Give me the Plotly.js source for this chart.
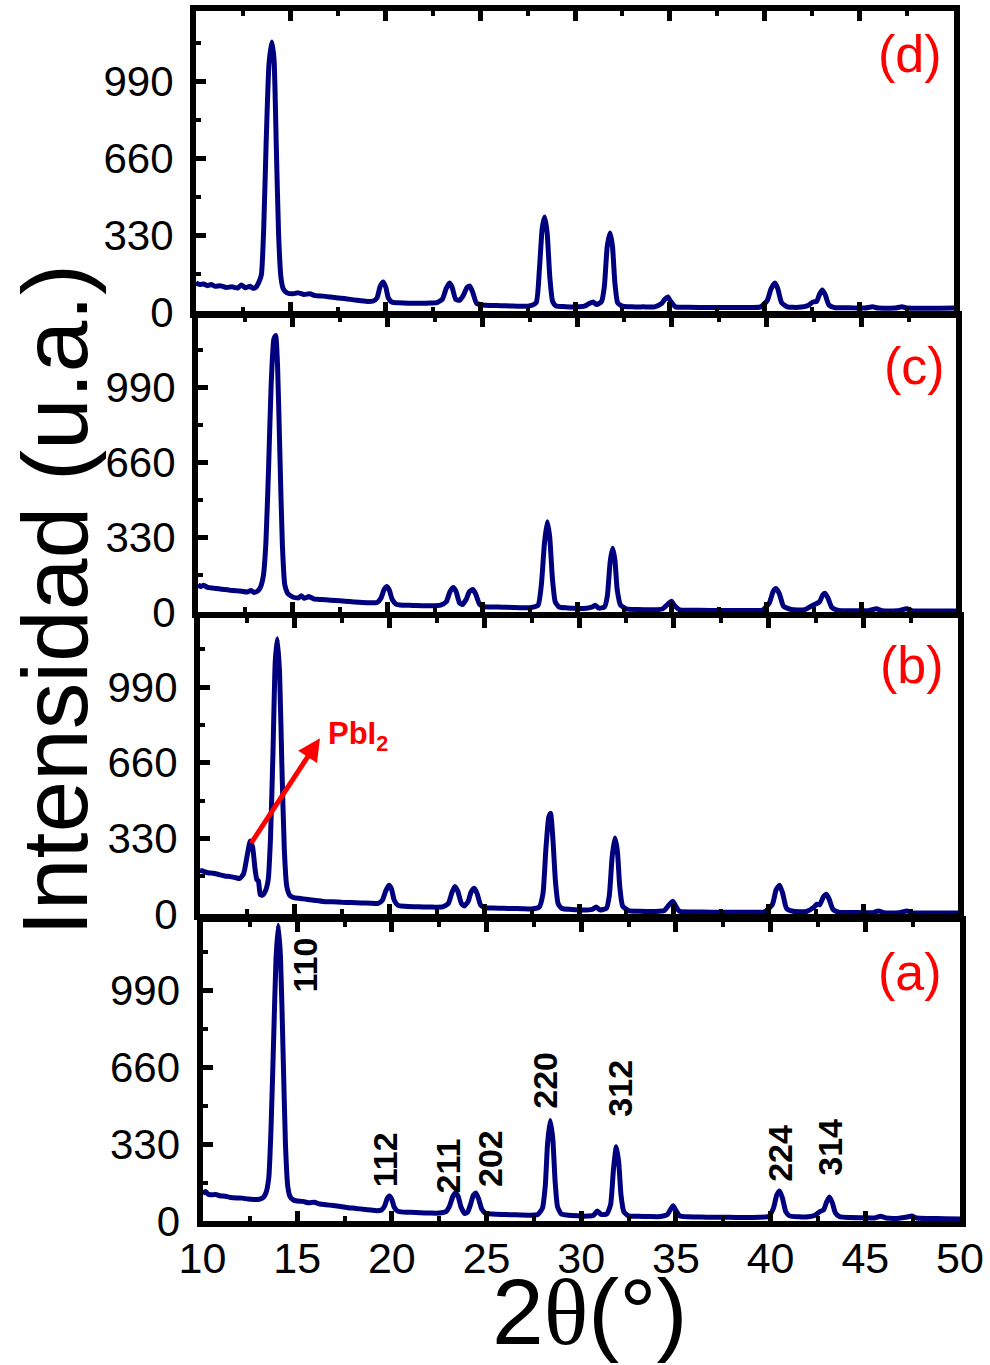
<!DOCTYPE html>
<html>
<head>
<meta charset="utf-8">
<script src="https://cdn.plot.ly/plotly-3.0.1.min.js"></script>
<style>html,body{margin:0;padding:0;background:#fff;}#chart{width:990px;height:1365px;}</style>
</head>
<body>
<div id="chart"></div>
<script>
// ---- Data (2θ in degrees, intensity in a.u.) ----
const thetaA = [10.0,10.15,10.3,10.5,10.7,10.9,11.2,11.5,11.8,12.1,12.4,12.7,13.0,13.2,13.35,13.5,13.62,13.75,13.88,14.0,14.12,14.25,14.38,14.5,14.62,14.8,15.0,15.3,15.6,15.9,16.2,16.5,16.9,17.3,17.7,18.1,18.5,18.9,19.2,19.45,19.62,19.75,19.87,20.0,20.12,20.3,20.6,21.0,21.5,22.0,22.5,22.85,23.05,23.22,23.35,23.5,23.65,23.85,24.0,24.15,24.3,24.43,24.58,24.75,24.95,25.3,25.8,26.3,26.8,27.3,27.7,27.95,28.1,28.22,28.36,28.5,28.62,28.75,28.95,29.3,29.8,30.3,30.65,30.85,31.05,31.35,31.55,31.7,31.85,31.98,32.1,32.25,32.5,33.0,33.6,34.2,34.55,34.72,34.85,35.0,35.2,35.6,36.3,37.0,37.8,38.6,39.4,39.9,40.15,40.32,40.47,40.62,40.8,41.0,41.5,42.0,42.35,42.6,42.8,42.95,43.1,43.25,43.42,43.65,44.2,44.9,45.5,45.8,46.1,46.8,47.2,47.45,47.7,48.4,49.2,50.0];
const intA = [118,126,115,112,114,108,106,101,99,98,94,92,93,100,120,185,400,760,1120,1268,1130,740,330,150,105,90,86,84,78,80,73,70,66,62,57,54,50,47,44,47,65,95,107,92,60,42,38,37,35,34,34,40,65,105,120,105,60,32,38,70,110,120,95,50,33,30,28,27,26,25,28,55,150,330,431,350,170,60,30,25,22,21,25,43,28,30,70,220,318,250,110,40,22,20,19,19,28,50,65,45,22,18,17,16,16,15,16,20,55,110,129,100,40,22,18,18,25,40,48,80,103,80,35,18,15,14,13,20,13,12,17,21,13,11,10,9];

const thetaB = [10.0,10.2,10.4,10.7,11.0,11.3,11.6,11.9,12.1,12.3,12.5,12.65,12.78,12.9,13.0,13.08,13.18,13.3,13.45,13.6,13.72,13.85,13.97,14.08,14.2,14.32,14.45,14.58,14.75,15.0,15.3,15.6,16.0,16.5,17.0,17.5,18.0,18.5,19.0,19.4,19.62,19.8,19.97,20.1,20.25,20.45,20.8,21.3,21.8,22.3,22.8,23.1,23.3,23.45,23.6,23.8,23.95,24.15,24.3,24.47,24.62,24.8,25.0,25.5,26.0,26.5,27.0,27.5,27.9,28.1,28.25,28.4,28.5,28.62,28.76,28.9,29.1,29.6,30.2,30.7,30.9,31.1,31.45,31.6,31.75,31.9,32.03,32.15,32.3,32.6,33.2,34.0,34.5,34.75,34.95,35.1,35.3,36.0,37.0,38.0,39.0,39.8,40.2,40.4,40.58,40.75,40.95,41.3,42.0,42.4,42.55,42.7,42.9,43.05,43.2,43.4,43.7,44.5,45.5,45.8,46.1,46.9,47.3,47.6,48.5,49.3,50.0];
const intB = [190,186,180,178,172,166,163,158,155,175,260,318,290,200,150,145,85,82,100,150,330,700,1100,1200,1050,650,280,120,80,70,68,64,60,55,53,51,50,48,47,46,60,100,125,110,60,38,34,32,31,30,31,45,95,120,100,45,35,55,95,112,90,40,28,26,25,24,23,22,30,90,280,420,439,330,140,45,24,20,17,20,31,18,25,80,250,331,270,120,35,15,12,11,15,40,56,35,12,9,8,8,8,10,40,105,125,90,25,12,11,30,43,40,75,86,65,20,8,7,6,13,6,5,13,5,4,4,4];

const thetaC = [10.0,10.15,10.3,10.5,10.8,11.1,11.4,11.7,12.0,12.3,12.6,12.8,12.95,13.15,13.3,13.45,13.58,13.72,13.86,14.0,14.1,14.2,14.32,14.45,14.58,14.75,15.0,15.3,15.45,15.6,15.85,16.1,16.5,17.0,17.5,18.0,18.5,19.0,19.45,19.65,19.83,19.97,20.1,20.25,20.45,20.8,21.3,21.8,22.3,22.8,23.1,23.3,23.47,23.62,23.8,23.95,24.15,24.32,24.5,24.65,24.85,25.1,25.6,26.1,26.6,27.1,27.6,27.95,28.12,28.28,28.43,28.56,28.7,28.85,29.05,29.5,30.0,30.5,30.8,30.95,31.15,31.45,31.6,31.75,31.88,32.0,32.12,32.3,32.6,33.2,34.0,34.5,34.8,34.98,35.15,35.4,36.0,37.0,38.0,39.0,39.8,40.15,40.35,40.5,40.68,40.9,41.3,42.0,42.4,42.6,42.8,42.97,43.1,43.25,43.45,43.8,44.5,45.4,45.8,46.1,46.9,47.4,47.7,48.5,49.3,50.0];
const intC = [120,112,118,108,105,102,99,96,94,91,88,95,86,92,110,160,300,620,1000,1200,1217,1080,700,300,120,80,66,62,72,60,68,58,55,52,49,46,43,41,42,60,100,112,95,55,35,30,29,28,27,30,45,90,108,90,40,33,55,90,99,80,35,24,22,21,20,19,20,30,120,300,397,330,150,45,22,18,16,17,22,30,17,22,70,220,280,230,100,30,14,11,10,13,35,47,28,10,8,7,7,7,9,40,90,103,80,25,11,10,28,35,45,75,82,60,20,7,6,6,14,6,5,14,5,4,4,4];

const thetaD = [10.0,10.2,10.4,10.6,10.8,11.0,11.3,11.6,11.9,12.2,12.4,12.6,12.85,13.0,13.15,13.3,13.45,13.57,13.7,13.85,14.0,14.12,14.24,14.36,14.48,14.6,14.8,15.1,15.4,15.7,16.0,16.3,16.7,17.1,17.5,17.9,18.3,18.7,19.1,19.35,19.55,19.72,19.88,20.02,20.15,20.35,20.7,21.2,21.7,22.2,22.7,23.0,23.2,23.38,23.52,23.7,23.9,24.1,24.3,24.45,24.6,24.8,25.1,25.6,26.1,26.6,27.1,27.6,27.95,28.12,28.27,28.4,28.53,28.67,28.82,29.0,29.5,30.0,30.5,30.75,30.95,31.15,31.4,31.55,31.7,31.85,31.98,32.1,32.25,32.5,33.0,33.6,34.2,34.55,34.75,34.9,35.05,35.3,36.0,37.0,38.0,39.0,39.8,40.15,40.35,40.55,40.7,40.9,41.2,41.8,42.3,42.55,42.75,42.9,43.05,43.2,43.4,43.7,44.5,45.3,45.7,46.0,46.9,47.25,47.5,48.5,49.3,50.0];
const intD = [124,118,120,113,118,110,112,105,108,103,116,104,110,102,105,125,160,350,720,1060,1157,1080,700,330,150,100,82,78,82,75,78,70,68,64,60,57,52,48,45,47,60,110,129,105,60,42,40,38,37,38,40,55,100,124,105,55,50,70,105,111,85,38,30,28,27,26,25,26,40,180,360,407,340,150,45,26,23,22,25,36,43,32,45,110,280,339,280,130,40,25,22,22,22,35,55,64,45,22,20,19,19,19,22,50,100,124,100,40,22,20,28,43,45,75,94,75,30,19,18,17,22,17,17,22,17,16,16,17];

const panelLabels = ['(a)','(b)','(c)','(d)'];
const yTickVals = [0,330,660,990];
const yTickText = ['0','330','660','990'];
const yMinorVals = [165,495,825,1155];
const xTickVals = [10,15,20,25,30,35,40,45,50];
const hklLabels = ['110','112','211','202','220','312','224','314'];
const hklPos2T  = [15.44,19.64,22.94,25.21,28.07,32.03,40.48,43.12];
const hklPosI   = [1097,261,236,268,604,570,291,317];
const impurityLabel = 'PbI<sub>2</sub>';

// ---- Layout geometry (pixels in the 990x1365 page) ----
const W = 990, H = 1365;
const fx = p => p / W;
const fy = p => 1 - p / H;
const FONT = 'Arial, "Liberation Sans", sans-serif';
const geo = [
  {left:202.5, right:960, bottom:1221, top:922, top330:231/990},
  {left:200,   right:958, bottom:914,  top:618, top330:227/990},
  {left:198,   right:956, bottom:612,  top:317, top330:225/990},
  {left:196,   right:954, bottom:312,  top:11,  top330:231/990}
];
const series = [[thetaA,intA],[thetaB,intB],[thetaC,intC],[thetaD,intD]];

const traces = [];
const layout = {
  width: W, height: H,
  margin: {l:0, r:0, t:0, b:0},
  paper_bgcolor: '#fff', plot_bgcolor: '#fff',
  showlegend: false,
  annotations: []
};

series.forEach((s, i) => {
  const n = i === 0 ? '' : String(i + 1);
  traces.push({
    x: s[0], y: s[1], type: 'scatter', mode: 'lines',
    xaxis: 'x' + n, yaxis: 'y' + n,
    line: {color: '#00007f', width: 5, shape: 'spline', smoothing: 0.5},
    hoverinfo: 'skip'
  });
  const g = geo[i];
  const R = (g.bottom - g.top) / g.top330;
  layout['xaxis' + n] = {
    domain: [fx(g.left), fx(g.right)], range: [10, 50], anchor: 'y' + n,
    showline: true, linewidth: 6, linecolor: '#000', mirror: 'ticks',
    ticks: 'inside', ticklen: 10, tickwidth: 5, tickcolor: '#000',
    tickvals: xTickVals, ticktext: xTickVals.map(String),
    minor: {dtick: 2.5, tick0: 10, ticks: 'inside', ticklen: 5, tickwidth: 4, tickcolor: '#000'},
    showgrid: false, zeroline: false,
    showticklabels: i === 0,
    tickfont: {family: FONT, size: 43, color: '#000'},
    ticklabelstandoff: -6
  };
  layout['yaxis' + n] = {
    domain: [fy(g.bottom), fy(g.top)], range: [0, R], anchor: 'x' + n,
    showline: true, linewidth: 6, linecolor: '#000', mirror: true,
    ticks: 'inside', ticklen: 10, tickwidth: 5, tickcolor: '#000',
    tickvals: yTickVals, ticktext: yTickText,
    minor: {tickvals: yMinorVals, ticks: 'inside', ticklen: 5, tickwidth: 4, tickcolor: '#000'},
    showgrid: false, zeroline: false,
    tickfont: {family: FONT, size: 42, color: '#000'},
    ticklabelstandoff: 8
  };
});

// Panel letters
const letterPos = [[910,972],[912,665],[914,366],[910,54]];
panelLabels.forEach((t, i) => {
  layout.annotations.push({
    text: t, xref: 'paper', yref: 'paper', x: fx(letterPos[i][0]), y: fy(letterPos[i][1]),
    xanchor: 'center', yanchor: 'middle', showarrow: false,
    font: {family: FONT, size: 52, color: '#ff0000'}
  });
});

// hkl labels on panel (a)
hklLabels.forEach((t, i) => {
  layout.annotations.push({
    text: '<b>' + t + '</b>', xref: 'x', yref: 'y', x: hklPos2T[i], y: hklPosI[i],
    xanchor: 'center', yanchor: 'middle', textangle: -90, showarrow: false,
    font: {family: FONT, size: 34, color: '#000'}
  });
});

// PbI2 arrow on panel (b): from the impurity peak (max below 13.5°)
let pk = 0;
thetaB.forEach((t, k) => { if (t < 13.5 && intB[k] > intB[pk]) pk = k; });
layout.annotations.push({
  text: '', xref: 'x2', yref: 'y2', x: 16.33, y: 767,
  axref: 'x2', ayref: 'y2', ax: thetaB[pk], ay: intB[pk] - 15,
  showarrow: true, arrowhead: 2, arrowsize: 0.9, arrowwidth: 5, arrowcolor: '#ff0000', standoff: 0
});
layout.annotations.push({
  text: '<b>' + impurityLabel + '</b>', xref: 'x2', yref: 'y2', x: 16.65, y: 775,
  xanchor: 'left', yanchor: 'middle', showarrow: false,
  font: {family: FONT, size: 31, color: '#ff0000'}
});

// Axis titles
layout.annotations.push({
  text: 'Intensidad (u.a.)', xref: 'paper', yref: 'paper', x: fx(55), y: fy(600),
  xanchor: 'center', yanchor: 'middle', textangle: -90, showarrow: false,
  font: {family: FONT, size: 93, color: '#000'}
});
layout.annotations.push({
  text: '2<span style="font-family:\'Liberation Serif\', serif">θ</span>(°)', xref: 'paper', yref: 'paper',
  x: fx(589), y: fy(1312), xanchor: 'center', yanchor: 'middle', showarrow: false,
  font: {family: FONT, size: 93, color: '#000'}
});

Plotly.newPlot('chart', traces, layout, {staticPlot: true, displayModeBar: false});
</script>
</body>
</html>
